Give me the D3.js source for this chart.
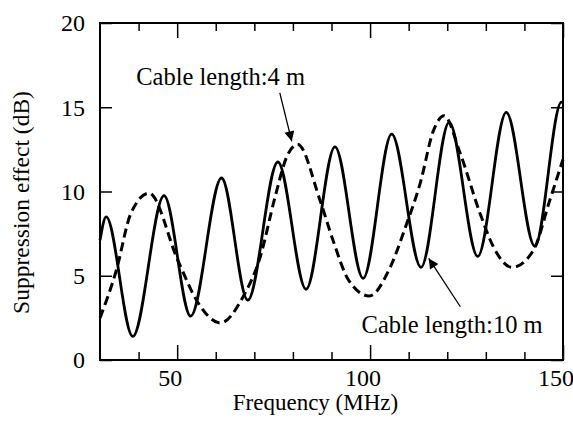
<!DOCTYPE html>
<html>
<head>
<meta charset="utf-8">
<script src="https://cdn.jsdelivr.net/npm/d3@7"></script>
<style>
  body { margin: 0; background: #fff; }
</style>
</head>
<body>
<svg id="chart" width="573" height="424"></svg>
<script>
// Cable length 10 m (solid) - peaks / troughs
const freq10 = [30, 31.6, 38.5, 46.6, 53.5, 61.5, 68.3, 76.1, 83.4, 90.9, 98.2, 105.6, 113.2, 120.5, 127.9, 135.3, 142.7, 149.6, 150];
const db10 = [7.1, 8.5, 1.4, 9.75, 2.6, 10.8, 3.55, 11.75, 4.2, 12.65, 4.85, 13.4, 5.5, 14.1, 6.15, 14.7, 6.75, 15.3, 15.28];

// Cable length 4 m (dashed)
const freq4 = [30, 34.2, 38, 42.7, 50.2, 55.4, 61.2, 67.1, 71.5, 75.4, 78.4, 81.2, 87, 90.4, 94.4, 99.8, 105.2, 109.5, 113, 116.4, 119.2, 123.3, 128.5, 132, 136.8, 142.3, 146.6, 150];
const db4 = [2.5, 5.3, 8.7, 9.9, 5.9, 3.4, 2.2, 3.76, 6.1, 9.7, 12.06, 12.8, 9.5, 7.1, 4.75, 3.8, 5.5, 8.1, 10.5, 13.6, 14.5, 12.3, 8.7, 6.7, 5.5, 6.5, 9.5, 11.9];

// Axis ticks
const xMajorTicks = [50, 100, 150];
const xMinorTicks = [40, 60, 70, 80, 90, 110, 120, 130, 140];
const yTicks = [0, 5, 10, 15, 20];

// Annotations (data units)
const labels = ["Cable length:4 m", "Cable length:10 m"];
const labelPos = [[39.4, 16.3], [97.8, 1.6]];
const arrowFrom = [[76.6, 15.85], [123.4, 3.16]];
const arrowTo = [[79.7, 12.98], [115.2, 6.03]];

const FONT = "'Liberation Serif', 'Times New Roman', Tinos, 'DejaVu Serif', serif";
const margin = { top: 23, right: 10, bottom: 64, left: 100 };
const width = 573, height = 424;

const svg = d3.select("#chart").attr("font-family", FONT);

svg.append("defs").append("marker")
  .attr("id", "head")
  .attr("viewBox", "0 0 10 10")
  .attr("refX", 10).attr("refY", 5)
  .attr("markerWidth", 13).attr("markerHeight", 10)
  .attr("markerUnits", "userSpaceOnUse")
  .attr("orient", "auto")
  .append("path").attr("d", "M0,0 L10,5 L0,10 Z").attr("fill", "#000");

const x = d3.scaleLinear().domain([30, 150]).range([margin.left, width - margin.right]);
const y = d3.scaleLinear().domain([0, 20]).range([height - margin.bottom, margin.top]);

const g = svg.append("g");

// ticks, all pointing inward
function addAxis(axis, transform) {
  const a = g.append("g").attr("transform", transform).call(axis);
  a.select(".domain").remove();
  a.selectAll(".tick line").attr("stroke", "#000").attr("stroke-width", 1.5);
  a.selectAll("text").remove();
}
addAxis(d3.axisBottom(x).tickValues(xMajorTicks).tickSize(-15), `translate(0,${y(0)})`);
addAxis(d3.axisBottom(x).tickValues(xMinorTicks).tickSize(-8), `translate(0,${y(0)})`);
addAxis(d3.axisTop(x).tickValues(xMajorTicks).tickSize(-15), `translate(0,${y(20)})`);
addAxis(d3.axisTop(x).tickValues(xMinorTicks).tickSize(-8), `translate(0,${y(20)})`);
addAxis(d3.axisLeft(y).tickValues(yTicks).tickSize(-12), `translate(${x(30)},0)`);
addAxis(d3.axisRight(y).tickValues(yTicks).tickSize(-12), `translate(${x(150)},0)`);

// frame
g.append("rect")
  .attr("x", x(30)).attr("y", y(20))
  .attr("width", x(150) - x(30)).attr("height", y(0) - y(20))
  .attr("fill", "none").attr("stroke", "#000").attr("stroke-width", 2);

// tick labels
g.selectAll(".ylab").data(yTicks).join("text")
  .attr("font-family", FONT)
  .attr("x", x(30) - 15).attr("y", d => y(d)).attr("dy", "0.35em")
  .attr("text-anchor", "end").attr("font-size", 24).text(d => d);
g.selectAll(".xlab").data(xMajorTicks).join("text")
  .attr("font-family", FONT)
  .attr("x", d => x(d) - 7).attr("y", y(0) + 26)
  .attr("text-anchor", "middle").attr("font-size", 24).text(d => d);

// axis titles
g.append("text")
  .attr("font-family", FONT)
  .attr("x", (x(30) + x(150)) / 2 - 16).attr("y", height - 14)
  .attr("text-anchor", "middle").attr("font-size", 23).text("Frequency (MHz)");
g.append("text")
  .attr("font-family", FONT)
  .attr("transform", `translate(29,${(y(0) + y(20)) / 2 + 11}) rotate(-90)`)
  .attr("text-anchor", "middle").attr("font-size", 23.5).text("Suppression effect (dB)");

// curves
const line = d3.line().x(d => x(d[0])).y(d => y(d[1])).curve(d3.curveMonotoneX);
const data10 = freq10.map((f, i) => [f, db10[i]]);
const data4 = freq4.map((f, i) => [f, db4[i]]);

g.append("path").datum(data4).attr("d", line)
  .attr("fill", "none").attr("stroke", "#000").attr("stroke-width", 3)
  .attr("stroke-dasharray", "9,5");
g.append("path").datum(data10).attr("d", line)
  .attr("fill", "none").attr("stroke", "#000").attr("stroke-width", 2.8);

// annotations
labels.forEach((t, i) => {
  g.append("text")
    .attr("font-family", FONT)
    .attr("x", x(labelPos[i][0])).attr("y", y(labelPos[i][1]))
    .attr("font-size", 24.5).text(t);
  g.append("line")
    .attr("x1", x(arrowFrom[i][0])).attr("y1", y(arrowFrom[i][1]))
    .attr("x2", x(arrowTo[i][0])).attr("y2", y(arrowTo[i][1]))
    .attr("stroke", "#000").attr("stroke-width", 1.3)
    .attr("marker-end", "url(#head)");
});
</script>
</body>
</html>
